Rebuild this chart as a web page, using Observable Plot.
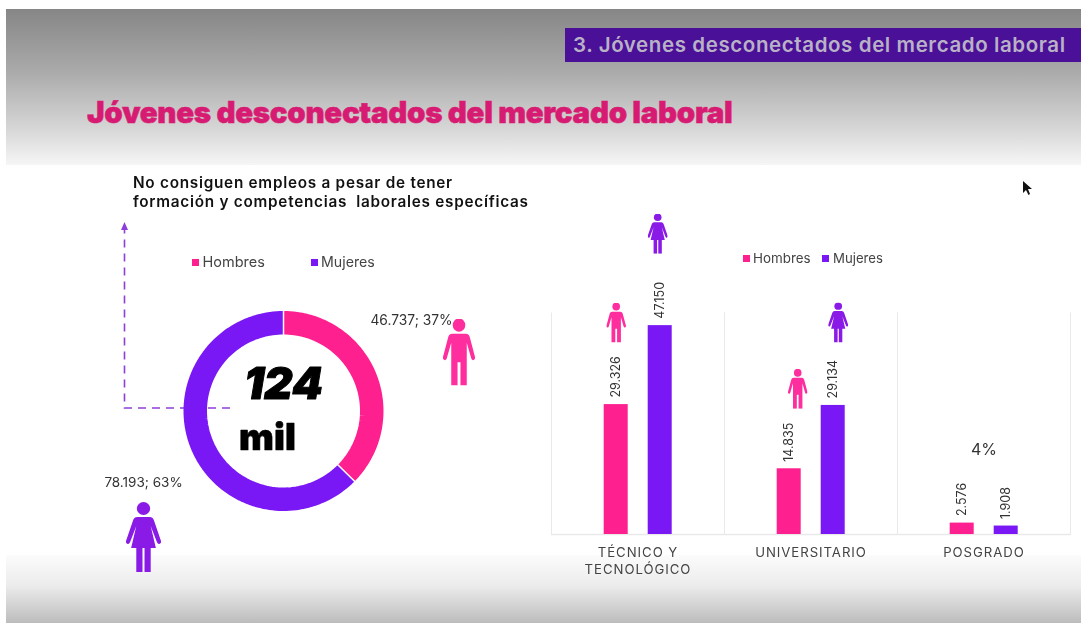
<!DOCTYPE html>
<html><head><meta charset="utf-8">
<script src="https://cdn.jsdelivr.net/npm/d3@7"></script>
<script src="https://cdn.jsdelivr.net/npm/@observablehq/plot@0.6"></script>
<style>
html,body{margin:0;padding:0;background:#fff;overflow:hidden}
#page{position:relative;width:1081px;height:623px;overflow:hidden;font-family:Inter,"Noto Sans",sans-serif;filter:blur(.35px)}
#page>*{position:absolute}
.top{left:6px;right:0;top:9px;height:156px;background:linear-gradient(#868686,#aaa 40%,#d8d8d8 78%,#f6f6f6)}
.bottom{left:6px;right:0;top:555px;height:68px;background:linear-gradient(#fbfbfb,#ececec 45%,#bcbcbc)}
.bar{left:565px;top:28px;width:516px;height:34px;background:#4a1098;color:#b9b2c6;font-weight:600;font-size:20.500px;letter-spacing:.6px;line-height:34px;text-indent:8px;white-space:nowrap}
.title{left:87px;top:92px;color:#d81b72;font-weight:900;font-size:29.500px;line-height:40px;letter-spacing:-.3px;-webkit-text-stroke:.5px #d81b72;white-space:nowrap}
.sub{left:133px;top:173px;color:#111;font-weight:600;font-size:15.300px;letter-spacing:.74px;line-height:19px;white-space:nowrap}
.lg{color:#444;white-space:nowrap;line-height:16px}
.sq{width:7px;height:7px}
svg.plot{position:absolute;left:0;top:0;background:transparent}
[aria-label="fx-axis tick label"]{letter-spacing:.95px}
</style></head><body>
<div id="page">
<div class="top"></div><div class="bottom"></div>
<div class="bar">3. Jóvenes desconectados del mercado laboral</div>
<div class="title">Jóvenes desconectados del mercado laboral</div>
<div class="sub">No consiguen empleos a pesar de tener<br>formación y competencias&nbsp; laborales específicas</div>
<svg style="left:0;top:0" width="1081" height="623">
<path d="M230 408H124.500V230" fill="none" stroke="#8f3fd8" stroke-width="1.600" stroke-dasharray="8 6"/>
<path d="M124.500 222l3.500 8h-7z" fill="#8f3fd8"/>
<path d="M1023 181l0 12 3-3 2.500 5 1.500-1-2-5 4 0z" fill="#111"/>
</svg>
<div class="sq" style="left:191.500px;top:259px;background:#ff2090"></div><div class="lg" style="left:202.500px;top:254px;font-size:14.500px">Hombres</div>
<div class="sq" style="left:310.500px;top:259px;background:#7a18f5"></div><div class="lg" style="left:321px;top:254px;font-size:14.200px">Mujeres</div>
<div class="sq" style="left:743px;top:255px;background:#ff2090"></div><div class="lg" style="left:753px;top:250px;font-size:13.400px">Hombres</div>
<div class="sq" style="left:822px;top:255px;background:#7a18f5"></div><div class="lg" style="left:833px;top:250px;font-size:13.200px">Mujeres</div>
</div>
<script>
const genders = ["Hombres","Mujeres"];
const levels = ["TÉCNICO Y\nTECNOLÓGICO","UNIVERSITARIO","POSGRADO"];
const hombres = [29326,14835,2576];
const mujeres = [47150,29134,1908];
const labelsH = ["29.326","14.835","2.576"];
const labelsM = ["47.150","29.134","1.908"];
const totals = [46737,78193];
const totalLabels = ["46.737; 37%","78.193; 63%"];
const PINK="#ff2090", PURPLE="#7a18f5";
const man = `<svg xmlns='http://www.w3.org/2000/svg' viewBox='0 0 34 66' preserveAspectRatio='none'><circle cx='17' cy='6.500' r='6.500' fill='#ff2e9e'/><path fill='#ff2e9e' d='M10 15H24Q27 15 28 18L33.500 38Q34 40.500 32 41Q30 41.500 29.500 39L25 24V66H18.500V43H15.500V66H9V24L4.500 39Q4 41.500 2 41Q0 40.500 .5 38L6 18Q7 15 10 15Z'/></svg>`;
const woman = `<svg xmlns='http://www.w3.org/2000/svg' viewBox='0 0 34 70' preserveAspectRatio='none'><circle cx='17' cy='6.500' r='6.500' fill='#8a1ae6'/><path fill='#8a1ae6' d='M11 15H23Q26 15 27 18L34 39Q34.500 41 32.500 42Q31 42.500 30 40L24 24L29 46H24V70H18V46H16V70H10V46H5L10 24L4 40Q3 42.500 1.500 42Q-.5 41 0 39L7 18Q8 15 11 15Z'/></svg>`;
const uri = s => "data:image/svg+xml;utf8," + encodeURIComponent(s);
const manSrc = uri(man), womanSrc = uri(woman);

// bars
const rows = levels.flatMap((l,i)=>[
  {level:l,gender:genders[0],value:hombres[i],label:labelsH[i]},
  {level:l,gender:genders[1],value:mujeres[i],label:labelsM[i]}]);
const icon = (level,gender,dx,dy) => Plot.image(rows.filter(d=>d.level===level&&d.gender===gender),{
  fx:"level",x:"gender",y:"value",src:()=>gender===genders[0]?manSrc:womanSrc,width:20,height:40,dx,dy,preserveAspectRatio:"none"});
const bars = Plot.plot({
  width:1081,height:623,marginLeft:550.300,marginRight:10.500,marginTop:312.500,marginBottom:89,
  style:{background:"transparent",fontFamily:"Inter, sans-serif"},
  fx:{domain:levels,padding:0,label:null,axis:null},
  x:{domain:genders,paddingInner:.45,paddingOuter:1.17,axis:null,label:null},
  y:{domain:[0,50000],axis:null},
  color:{domain:genders,range:[PINK,PURPLE]},
  marks:[
    Plot.frame({anchor:"left",stroke:"#e9e9e9",strokeOpacity:1}),
    Plot.frame({anchor:"right",stroke:"#e9e9e9",strokeOpacity:1}),
    Plot.ruleY([0],{stroke:"#e9e9e9",strokeWidth:1.500}),
    Plot.barY(rows,{fx:"level",x:"gender",y:"value",fill:"gender"}),
    Plot.text(rows,{fx:"level",x:"gender",y:"value",text:"label",rotate:-90,textAnchor:"start",dy:-7,fontSize:12.500,fill:"#333"}),
    Plot.text(["4%"],{fx:()=>levels[2],frameAnchor:"top",text:d=>d,dy:131,fontSize:16,fill:"#333"}),
    icon(levels[0],genders[0],0,-82),
    icon(levels[0],genders[1],-2.500,-92),
    icon(levels[1],genders[0],8.500,-80),
    icon(levels[1],genders[1],5,-83),
    Plot.axisFx({anchor:"bottom",tickSize:0,tickPadding:10,fontSize:13.200,fill:"#444",label:null,lineHeight:1.300})
  ]});

// donut
const sum = d3.sum(totals), R=.8825;
let start=0;
const arcs = genders.flatMap((g,i)=>{
  const f=totals[i]/sum, n=Math.ceil(f*180), pts=[];
  for(let k=0;k<=n;k++){const a=(start+f*k/n)*2*Math.PI; pts.push({g,x:R*Math.sin(a),y:R*Math.cos(a)});}
  start+=f; return pts;
});
const seams=[0,totals[0]/sum].map(f=>f*2*Math.PI);
const donut = Plot.plot({
  width:1081,height:623,marginLeft:183,marginRight:698,marginTop:310.500,marginBottom:112.500,
  style:{background:"transparent",fontFamily:"Inter, sans-serif"},
  x:{domain:[-1,1],axis:null},y:{domain:[-1,1],axis:null},
  color:{domain:genders,range:[PINK,PURPLE]},
  marks:[
    Plot.line(arcs,{x:"x",y:"y",z:"g",stroke:"g",strokeWidth:23.500,strokeLinecap:"butt",strokeLinejoin:"round"}),
    Plot.link(seams,{x1:a=>.76*Math.sin(a),y1:a=>.76*Math.cos(a),x2:a=>1.01*Math.sin(a),y2:a=>1.01*Math.cos(a),stroke:"#fff",strokeWidth:1.500}),
    Plot.text(["124"],{x:()=>0,y:()=>0,text:d=>d,dy:-26,fontSize:44,fontWeight:900,fontStyle:"italic",fill:"#000",stroke:"#000",strokeWidth:1}),
    Plot.text(["mil"],{x:()=>0,y:()=>0,text:d=>d,dx:-16,dy:27,fontSize:37,fontWeight:900,fill:"#000",stroke:"#000",strokeWidth:.6}),
    Plot.text([totalLabels[0]],{x:()=>0,y:()=>0,text:d=>d,dx:128,dy:-90.500,fontSize:13.800,fill:"#333"}),
    Plot.text([totalLabels[1]],{x:()=>0,y:()=>0,text:d=>d,dx:-140,dy:71.500,fontSize:13.500,fill:"#333"}),
    Plot.image([0],{x:()=>0,y:()=>0,src:()=>manSrc,width:33,height:67,dx:175.500,dy:-59,preserveAspectRatio:"none"}),
    Plot.image([0],{x:()=>0,y:()=>0,src:()=>womanSrc,width:35,height:70,dx:-140,dy:126,preserveAspectRatio:"none"})
  ]});
document.getElementById("page").append(donut,bars);
</script>
</body></html>
